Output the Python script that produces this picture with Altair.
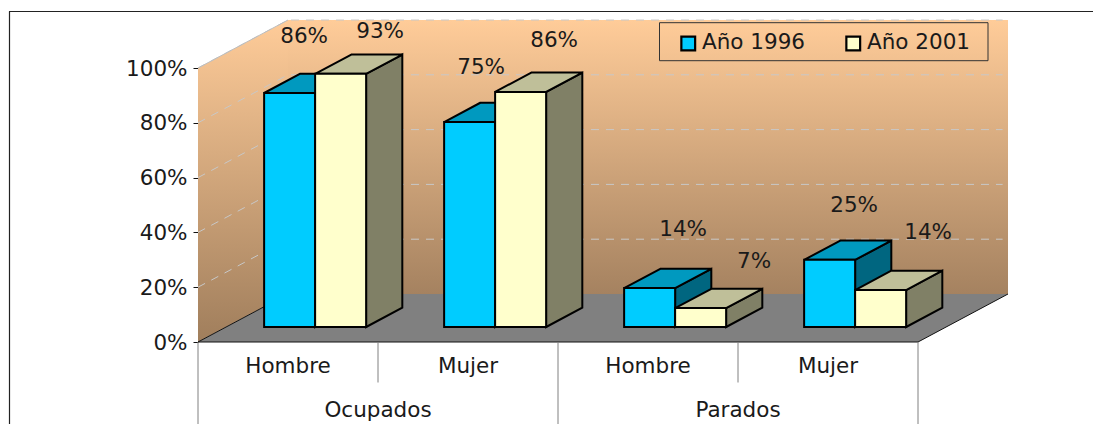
import altair as alt
import pandas as pd

# ---- data ----
GROUPS = ["Ocupados", "Parados"]
CATEGORIES = ["Hombre", "Mujer", "Hombre", "Mujer"]
SERIES = ["Año 1996", "Año 2001"]
VALUES_1996 = [85.4, 74.8, 14.2, 24.5]
VALUES_2001 = [92.4, 85.8, 6.9, 13.5]
LABELS_1996 = ["86%", "75%", "14%", "25%"]
LABELS_2001 = ["93%", "86%", "7%", "14%"]
Y_TICKS = [0, 20, 40, 60, 80, 100]

# ---- layout / projection of the oblique 3-D box ----
W, H = 1085, 416
PX_PER_CAT, PX_PER_PCT = 180.0, 2.74
ORIGIN_X, ORIGIN_Y = 198 - 8, 342 - 8
DEPTH_CAT, DEPTH_PCT = 90 / PX_PER_CAT, 48 / PX_PER_PCT
D_FRONT, D_BACK = 15 / 48, 34.3 / 48
BAR_START, BAR_W = 0.2111, 51 / PX_PER_CAT
FONT, FS = "DejaVu Sans", 21.5
TXT = "#1a1a1a"
COLORS = {
    "Año 1996": ("#00CCFF", "#0099BF", "#006680"),
    "Año 2001": ("#FFFFCC", "#BFBF99", "#808066"),
}
NUDGES_1996 = [(40, -56), (37, -54), (59, -58), (50, -54)]
NUDGES_2001 = [(65, -42), (59, -51), (79, -46), (73, -57)]

xs = alt.Scale(domain=[-ORIGIN_X / PX_PER_CAT, (W - ORIGIN_X) / PX_PER_CAT], nice=False, zero=False)
ys = alt.Scale(domain=[(ORIGIN_Y - H) / PX_PER_PCT, ORIGIN_Y / PX_PER_PCT], nice=False, zero=False)


def px(u, d=0.0):
    return u + d * DEPTH_CAT


def py(v, d=0.0):
    return v + d * DEPTH_PCT


Y_AXIS = alt.Axis(
    values=Y_TICKS, offset=-ORIGIN_X, domain=False, grid=False, tickSize=5, tickColor="#111",
    labelExpr="datum.value + '%'", labelFont=FONT, labelFontSize=FS, labelColor=TXT,
    labelPadding=6, labelOffset=1, title=None)

X = alt.X("x:Q", scale=xs, axis=None)
X2 = alt.X2("x2:Q")
Y = alt.Y("y:Q", scale=ys, axis=Y_AXIS)
Y2 = alt.Y2("y2:Q")

WALL_GRAD = dict(gradient="linear", x1=0, x2=0, y1=0, y2=1)
wall_left_fill = alt.Gradient(stops=[alt.GradientStop(color="#FFCC99", offset=0),
                                     alt.GradientStop(color="#A07E5C", offset=1)], **WALL_GRAD)
wall_back_fill = alt.Gradient(stops=[alt.GradientStop(color="#FFCC99", offset=0),
                                     alt.GradientStop(color="#A58260", offset=1)], **WALL_GRAD)

# walls and floor
left_wall = pd.DataFrame({"x": [px(0), px(0, 1)], "y": [py(0), py(0, 1)], "y2": [py(100), py(100, 1)]})
back_wall = pd.DataFrame({"x": [px(0, 1), px(4, 1)], "y": [py(0, 1)] * 2, "y2": [py(100, 1)] * 2})
floor = pd.DataFrame({"y": [py(0), py(0, 1)], "x": [px(0), px(0, 1)], "x2": [px(4), px(4, 1)]})
floor_edge = pd.DataFrame({"x": [px(0, 1), px(0), px(4), px(4, 1)],
                           "y": [py(0, 1), py(0), py(0), py(0, 1)], "o": [0, 1, 2, 3]})
wall_edge = pd.DataFrame({"x": [px(0), px(0, 1)], "y": [py(100), py(100, 1)]})

grid_rows = []
for t in Y_TICKS[1:]:
    grid_rows += [{"t": t, "o": 0, "x": px(0), "y": py(t)},
                  {"t": t, "o": 1, "x": px(0, 1), "y": py(t, 1)},
                  {"t": t, "o": 2, "x": px(3.97, 1), "y": py(t, 1)}]
grid = pd.DataFrame(grid_rows)

one_row = pd.DataFrame({"a": [0]})

layers = [
    alt.Chart(left_wall).mark_area(color=wall_left_fill).encode(x=X, y=Y, y2=Y2),
    alt.Chart(back_wall).mark_area(color=wall_back_fill).encode(x=X, y=Y, y2=Y2),
    alt.Chart(floor).mark_area(orient="horizontal", color="#808080").encode(y=Y, x=X, x2=X2),
    alt.Chart(grid).mark_line(color="#C8C8C8", strokeWidth=1, strokeDash=[8, 7]).encode(
        x=X, y=Y, detail="t:N", order="o:Q"),
    alt.Chart(wall_edge).mark_line(color="#BDBDBD", strokeWidth=1).encode(x=X, y=Y),
    alt.Chart(floor_edge).mark_line(color="#111111", strokeWidth=1).encode(x=X, y=Y, order="o:Q"),
    # legend box
    alt.Chart(one_row).mark_rect(filled=False, stroke="#333333", strokeWidth=1).encode(
        x=alt.value(651.5), x2=alt.value(980), y=alt.value(14.7), y2=alt.value(52.7)),
]

# bars
side_rows, top_rows, front_rows, label_layers = {}, {}, [], []
for s, vals, labs, nudges in [(SERIES[0], VALUES_1996, LABELS_1996, NUDGES_1996),
                              (SERIES[1], VALUES_2001, LABELS_2001, NUDGES_2001)]:
    k = SERIES.index(s)
    side_rows[s], top_rows[s] = [], []
    for i, v in enumerate(vals):
        left = i + BAR_START + k * BAR_W
        right = left + BAR_W
        front_rows.append({"serie": s, "x": px(left, D_FRONT), "x2": px(right, D_FRONT),
                           "y": py(0, D_FRONT), "y2": py(v, D_FRONT)})
        for d in (D_FRONT, D_BACK):
            side_rows[s].append({"bar": i, "x": px(right, d), "y": py(0, d), "y2": py(v, d)})
            top_rows[s].append({"bar": i, "y": py(v, d), "x": px(left, d), "x2": px(right, d)})
        label_layers.append(
            alt.Chart(pd.DataFrame({"x": [px(left, D_FRONT)], "y": [py(v, D_FRONT)], "t": [labs[i]]}))
            .mark_text(font=FONT, fontSize=FS, color=TXT, dx=nudges[i][0], dy=nudges[i][1],
                       align="center", baseline="middle")
            .encode(x=X, y=Y, text="t:N"))

for s in SERIES:
    _, top_c, side_c = COLORS[s]
    layers.append(alt.Chart(pd.DataFrame(side_rows[s])).mark_area(
        color=side_c, stroke="black", strokeWidth=2, strokeJoin="miter").encode(x=X, y=Y, y2=Y2, detail="bar:N"))
    layers.append(alt.Chart(pd.DataFrame(top_rows[s])).mark_area(
        orient="horizontal", color=top_c, stroke="black", strokeWidth=2, strokeJoin="miter").encode(
        y=Y, x=X, x2=X2, detail="bar:N"))

legend = alt.Legend(
    title=None, orient="none", legendX=669.5, legendY=24.2, direction="horizontal",
    columns=2, columnPadding=36, padding=0,
    symbolType="square", symbolSize=190, symbolStrokeColor="black", symbolStrokeWidth=2.2,
    symbolOpacity=1, labelFont=FONT, labelFontSize=FS, labelColor=TXT, labelOffset=3,
)
layers.append(alt.Chart(pd.DataFrame(front_rows)).mark_rect(stroke="black", strokeWidth=2).encode(
    x=X, x2=X2, y=Y, y2=Y2,
    color=alt.Color("serie:N", scale=alt.Scale(domain=SERIES, range=[COLORS[s][0] for s in SERIES]),
                    legend=legend)))
layers += label_layers

# hierarchical category axis
cat_df = pd.DataFrame({"x": [i + 0.5 for i in range(4)], "t": CATEGORIES})
grp_df = pd.DataFrame({"x": [1.0, 3.0], "t": GROUPS})
sep_short = pd.DataFrame({"x": [1, 3]})
sep_long = pd.DataFrame({"x": [0, 2, 4]})
layers += [
    alt.Chart(sep_short).mark_rule(color="#808080", strokeWidth=1).encode(x=X, y=alt.value(334), y2=alt.value(374.5)),
    alt.Chart(sep_long).mark_rule(color="#808080", strokeWidth=1).encode(x=X, y=alt.value(334), y2=alt.value(H)),
    alt.Chart(cat_df).mark_text(font=FONT, fontSize=FS, color=TXT, baseline="middle").encode(x=X, y=alt.value(359), text="t:N"),
    alt.Chart(grp_df).mark_text(font=FONT, fontSize=FS, color=TXT, baseline="middle").encode(x=X, y=alt.value(403), text="t:N"),
    # outer frame
    alt.Chart(one_row).mark_rule(color="#222222", strokeWidth=1.2).encode(
        x=alt.value(1.5), y=alt.value(3.5), y2=alt.value(H)),
    alt.Chart(one_row).mark_rule(color="#222222", strokeWidth=1.2).encode(
        y=alt.value(3.5), x=alt.value(1), x2=alt.value(W)),
]

chart = (
    alt.layer(*layers)
    .properties(width=W, height=H, padding=0, autosize=alt.AutoSizeParams(type="none"), background="white")
    .configure_view(strokeWidth=0)
)
chart.save("out.html", embed_options={"renderer": "svg", "actions": False})
